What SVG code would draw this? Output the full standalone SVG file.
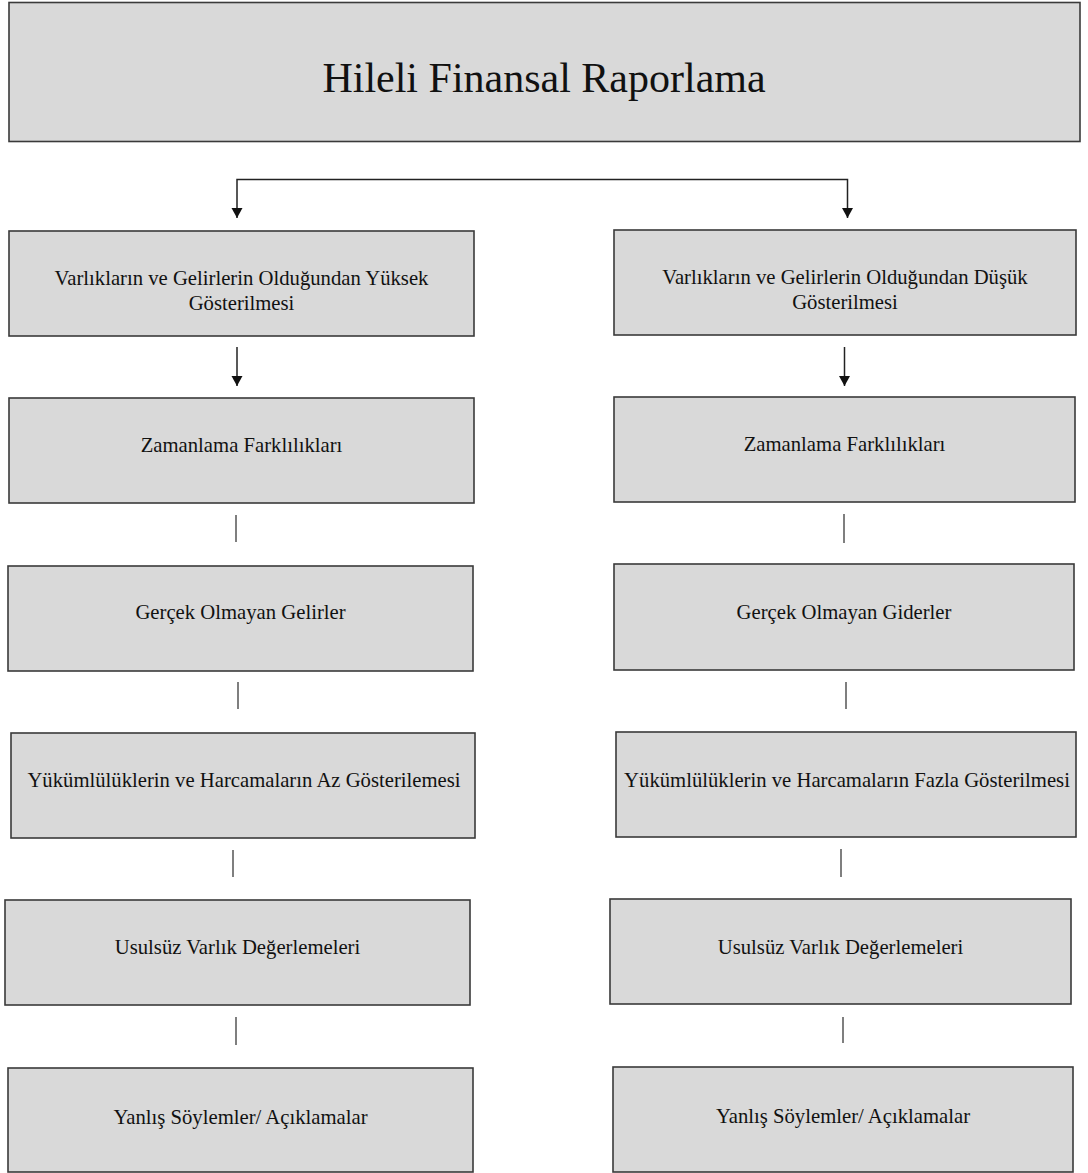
<svg xmlns="http://www.w3.org/2000/svg" width="1088" height="1173" viewBox="0 0 1088 1173">
  <style>
    .box { fill: #d9d9d9; stroke: #3a3a3a; stroke-width: 1.6; }
    .lbl { font-family: "Liberation Serif", "Times New Roman", serif; font-size: 20.7px; fill: #111; text-anchor: middle; }
    .title { font-family: "Liberation Serif", "Times New Roman", serif; font-size: 42px; fill: #111; text-anchor: middle; }
    .arrow { stroke: #222; stroke-width: 1.5; fill: none; }
    .link { stroke: #555; stroke-width: 1.5; fill: none; }
  </style>
  <defs>
    <!-- downward arrowhead, fixed orientation; tip sits on the line end -->
    <marker id="head" markerUnits="userSpaceOnUse" markerWidth="12" markerHeight="11" refX="6" refY="10" orient="0" viewBox="0 0 12 11">
      <path d="M0.5,0 L11.5,0 L6,10 Z" fill="#111"/>
    </marker>
  </defs>

  <!-- root -->
  <g id="root">
    <rect class="box" x="9" y="2.5" width="1071" height="139"/>
    <text class="title" x="544" y="92">Hileli Finansal Raporlama</text>
  </g>

  <!-- left column: overstatement -->
  <g id="left-1">
    <rect class="box" x="9" y="231" width="465" height="105"/>
    <text class="lbl" x="241.5" y="285">Varlıkların ve Gelirlerin Olduğundan Yüksek</text>
    <text class="lbl" x="241.5" y="310">Gösterilmesi</text>
  </g>
  <g id="left-2">
    <rect class="box" x="9" y="398" width="465" height="105"/>
    <text class="lbl" x="241.5" y="452">Zamanlama Farklılıkları</text>
  </g>
  <g id="left-3">
    <rect class="box" x="8" y="566" width="465" height="105"/>
    <text class="lbl" x="240.5" y="619">Gerçek Olmayan Gelirler</text>
  </g>
  <g id="left-4">
    <rect class="box" x="11" y="733" width="464" height="105"/>
    <text class="lbl" x="244" y="787">Yükümlülüklerin ve Harcamaların Az Gösterilemesi</text>
  </g>
  <g id="left-5">
    <rect class="box" x="5" y="900" width="465" height="105"/>
    <text class="lbl" x="237.5" y="954">Usulsüz Varlık Değerlemeleri</text>
  </g>
  <g id="left-6">
    <rect class="box" x="8" y="1068" width="465" height="104"/>
    <text class="lbl" x="240.5" y="1124">Yanlış Söylemler/ Açıklamalar</text>
  </g>

  <!-- right column: understatement -->
  <g id="right-1">
    <rect class="box" x="614" y="230" width="462" height="105"/>
    <text class="lbl" x="845" y="284">Varlıkların ve Gelirlerin Olduğundan Düşük</text>
    <text class="lbl" x="845" y="309">Gösterilmesi</text>
  </g>
  <g id="right-2">
    <rect class="box" x="614" y="397" width="461" height="105"/>
    <text class="lbl" x="844.5" y="451">Zamanlama Farklılıkları</text>
  </g>
  <g id="right-3">
    <rect class="box" x="614" y="564" width="460" height="106"/>
    <text class="lbl" x="844" y="619">Gerçek Olmayan Giderler</text>
  </g>
  <g id="right-4">
    <rect class="box" x="616" y="732" width="460" height="105"/>
    <text class="lbl" x="847" y="787">Yükümlülüklerin ve Harcamaların Fazla Gösterilmesi</text>
  </g>
  <g id="right-5">
    <rect class="box" x="610" y="899" width="461" height="105"/>
    <text class="lbl" x="840.5" y="954">Usulsüz Varlık Değerlemeleri</text>
  </g>
  <g id="right-6">
    <rect class="box" x="613" y="1067" width="460" height="105"/>
    <text class="lbl" x="843" y="1123">Yanlış Söylemler/ Açıklamalar</text>
  </g>

  <!-- connectors -->
  <g id="connectors">
    <path class="arrow" d="M237,218 L237,179.5 L847.5,179.5 L847.5,218" marker-start="url(#head)" marker-end="url(#head)"/>
    <line class="arrow" x1="237" y1="347" x2="237" y2="386" marker-end="url(#head)"/>
    <line class="arrow" x1="844.5" y1="347" x2="844.5" y2="386" marker-end="url(#head)"/>

    <line class="link" x1="236" y1="515" x2="236" y2="542"/>
    <line class="link" x1="238" y1="682" x2="238" y2="709"/>
    <line class="link" x1="233" y1="850" x2="233" y2="877"/>
    <line class="link" x1="236" y1="1017" x2="236" y2="1045"/>

    <line class="link" x1="844" y1="514" x2="844" y2="543"/>
    <line class="link" x1="846" y1="682" x2="846" y2="709"/>
    <line class="link" x1="841" y1="849" x2="841" y2="877"/>
    <line class="link" x1="843" y1="1017" x2="843" y2="1043"/>
  </g>
</svg>
